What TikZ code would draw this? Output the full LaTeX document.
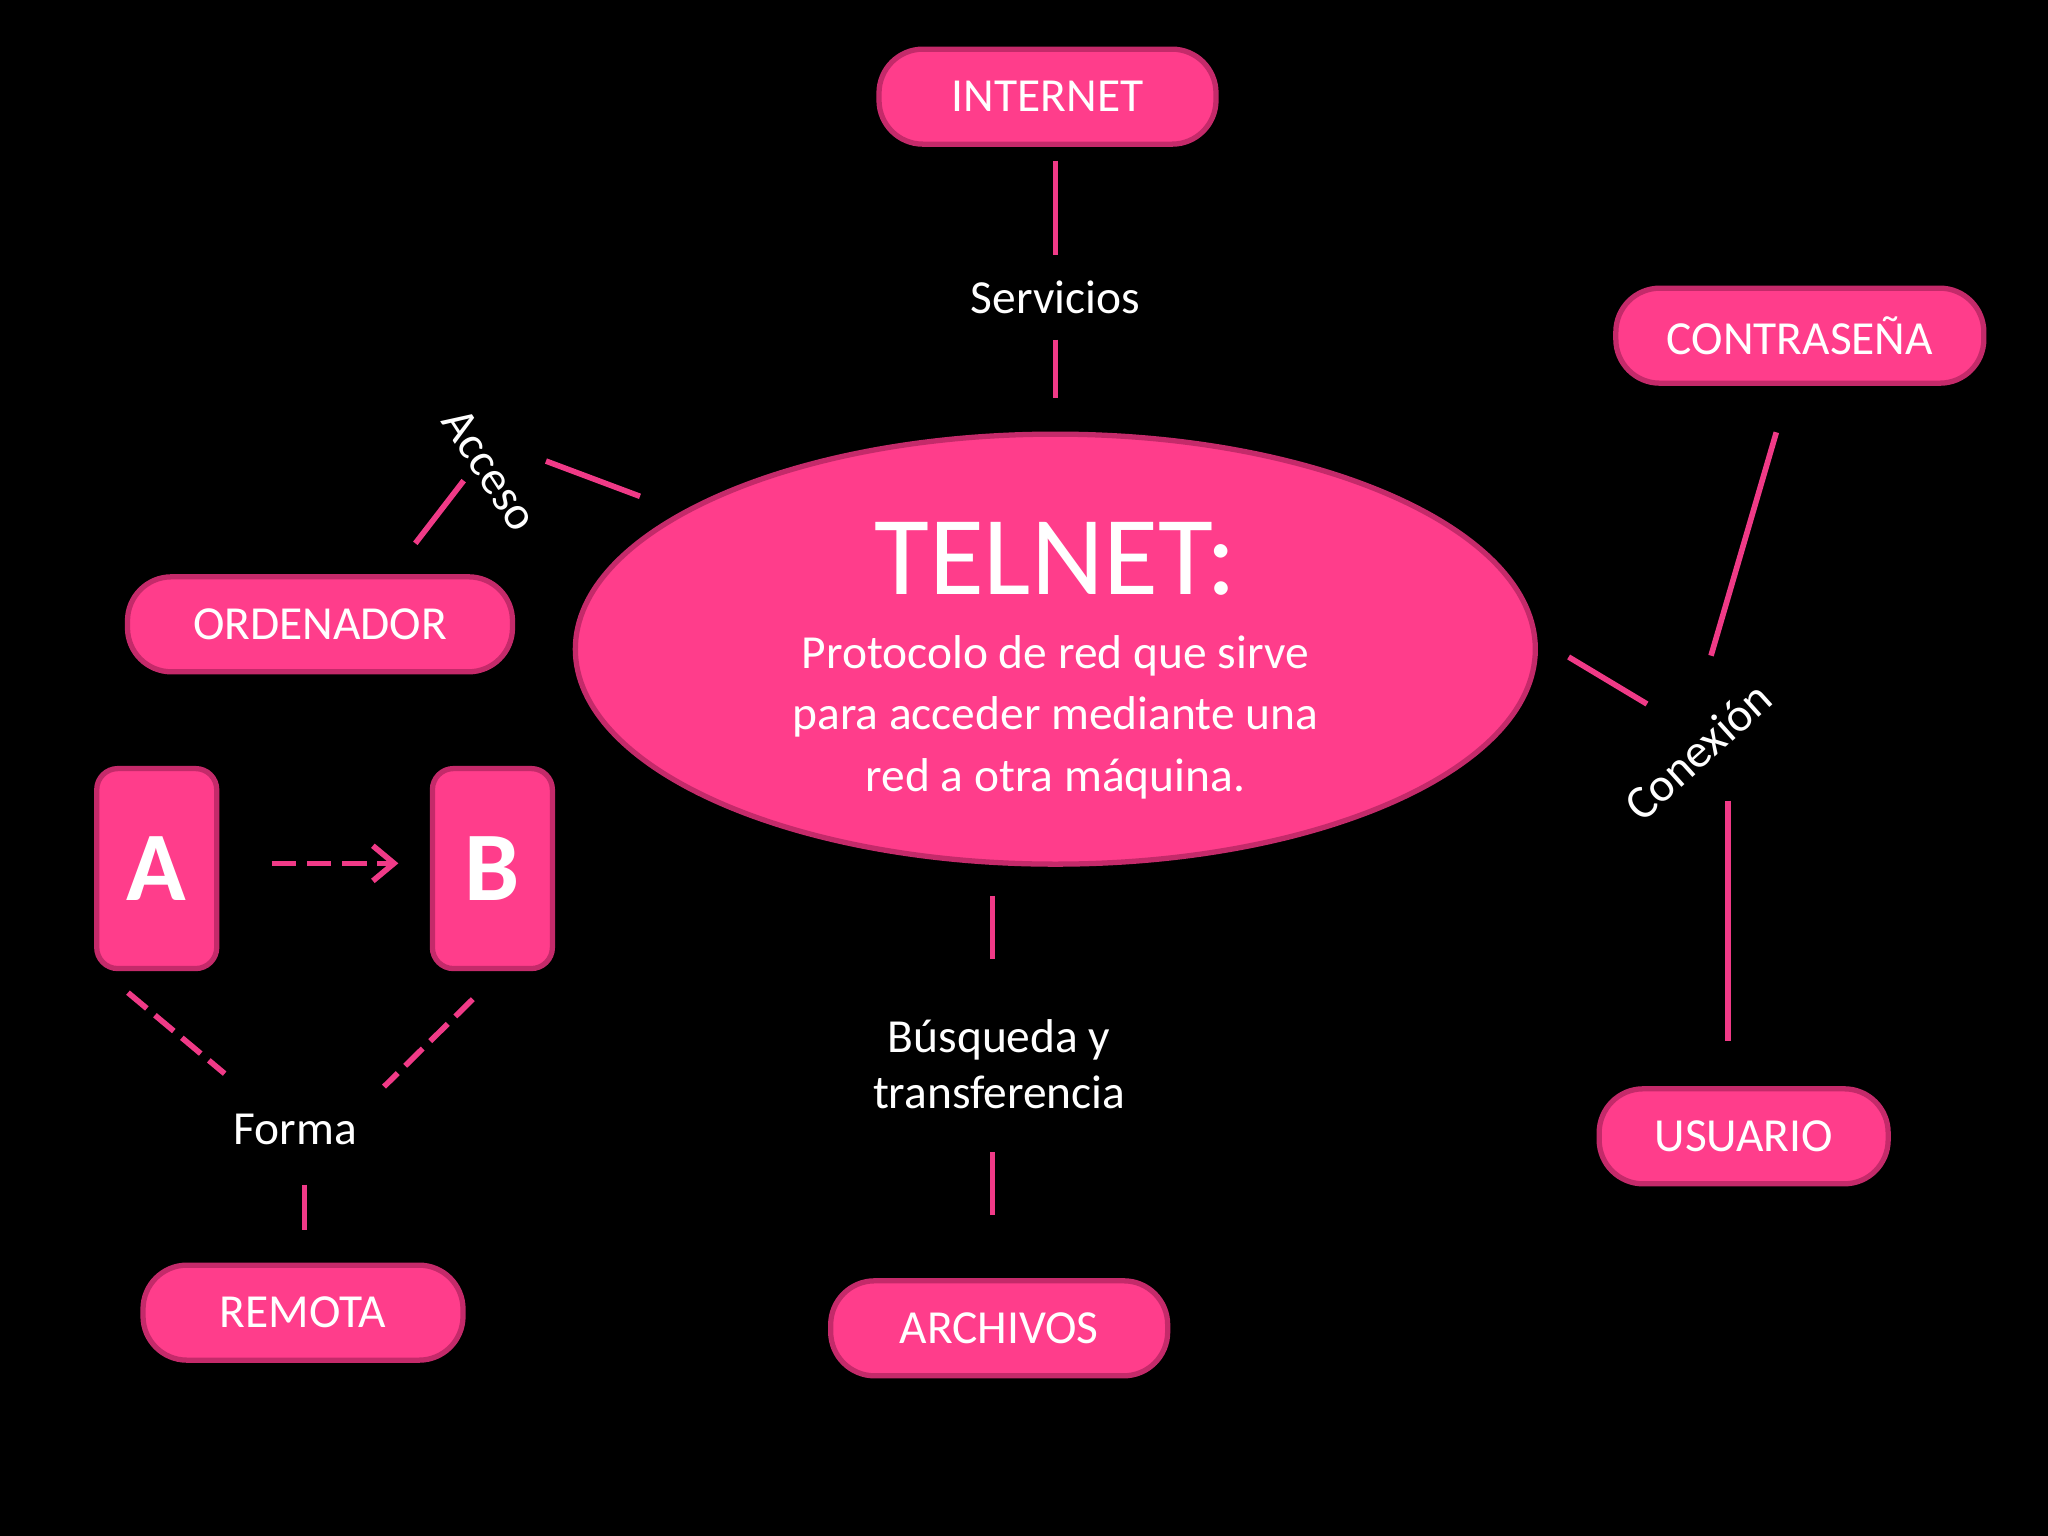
\documentclass[tikz,border=0pt]{standalone}
\usepackage{fontspec}
\setmainfont{Carlito}
\usetikzlibrary{arrows.meta,shapes.geometric}
\definecolor{pk}{HTML}{FF3D8B}
\definecolor{pkd}{HTML}{C42A6A}
\definecolor{ln}{HTML}{F03A87}
\begin{document}
\begin{tikzpicture}[x=0.01306cm,y=-0.01306cm,
 pill/.style={draw=pkd,line width=1.5pt,fill=pk,rounded corners=12.5pt,text=white,font=\fontsize{13.5}{15}\selectfont,inner sep=0pt},
 lbl/.style={text=white,font=\fontsize{13.5}{16}\selectfont,align=center},
 cn/.style={draw=ln,line width=1.6pt},
 box/.style={draw=pkd,line width=1.5pt,fill=pk,rounded corners=6pt,text=white,font=\fontsize{28}{30}\selectfont\bfseries,inner sep=0pt,minimum width=1.2cm,minimum height=2.0cm}]
\fill[black] (0,0) rectangle (1568,1176);
\node[pill,minimum width=3.37cm,minimum height=0.95cm] (int) at (802,74) {INTERNET};
\node[pill,minimum width=3.68cm,minimum height=0.95cm] (con) at (1378,257) {CONTRASEÑA};
\node[pill,minimum width=3.85cm,minimum height=0.95cm] (ord) at (245,478) {ORDENADOR};
\node[pill,minimum width=2.89cm,minimum height=0.95cm] (usu) at (1335,870) {USUARIO};
\node[pill,minimum width=3.2cm,minimum height=0.95cm] (rem) at (232,1005) {REMOTA};
\node[pill,minimum width=3.37cm,minimum height=0.95cm] (arc) at (765,1017) {ARCHIVOS};
\node[ellipse,draw=pkd,line width=1.5pt,fill=pk,minimum width=9.6cm,minimum height=4.3cm] (tel) at (808,497) {};
\node[text=white,font=\fontsize{32}{34}\selectfont] (tt) at (808,428) {TELNET:};
\node[text=white,font=\fontsize{13.5}{17.5}\selectfont,align=center] (td) at (808,549) {Protocolo de red que sirve\\para acceder mediante una\\red a otra máquina.};
\node[box] (A) at (120,665) {A};
\node[box] (B) at (377,665) {B};
\draw[ln,line width=1.6pt,dash pattern=on 7pt off 3pt,-{Straight Barb[length=6pt,width=10pt]}] (208,661) -- (305,661);
% labels
\node[lbl] (serv) at (808,228) {Servicios};
\node[lbl,rotate=-57] (acc) at (375,360) {Acceso};
\node[lbl,rotate=42] (cnx) at (1300,575) {Conexión};
\node[lbl] (bus) at (765,815) {Búsqueda y\\transferencia};
\node[lbl] (for) at (226,865) {Forma};
% connectors
\coordinate (i1) at (808,123); \coordinate (i2) at (808,195);
\coordinate (i3) at (808,260); \coordinate (i4) at (808,305);
\draw[cn] (i1)--(i2); \draw[cn] (i3)--(i4);
\coordinate (a1) at (418,353); \coordinate (a2) at (490,380);
\coordinate (a3) at (355,368); \coordinate (a4) at (318,416);
\draw[cn] (a1)--(a2); \draw[cn] (a3)--(a4);
\coordinate (c1) at (1201,503); \coordinate (c2) at (1261,539);
\coordinate (c3) at (1310,502); \coordinate (c4) at (1360,331);
\coordinate (c5) at (1323,613); \coordinate (c6) at (1323,797);
\draw[cn] (c1)--(c2); \draw[cn] (c3)--(c4); \draw[cn] (c5)--(c6);
\coordinate (b1) at (760,686); \coordinate (b2) at (760,734);
\coordinate (b3) at (760,882); \coordinate (b4) at (760,930);
\draw[cn] (b1)--(b2); \draw[cn] (b3)--(b4);
\coordinate (f1) at (98,760); \coordinate (f2) at (172,822);
\coordinate (f3) at (362,765); \coordinate (f4) at (294,832);
\coordinate (f5) at (233,907); \coordinate (f6) at (233,942);
\draw[cn,dash pattern=on 7pt off 3pt] (f1)--(f2); \draw[cn,dash pattern=on 7pt off 3pt] (f3)--(f4); \draw[cn] (f5)--(f6);
\end{tikzpicture}
\end{document}
